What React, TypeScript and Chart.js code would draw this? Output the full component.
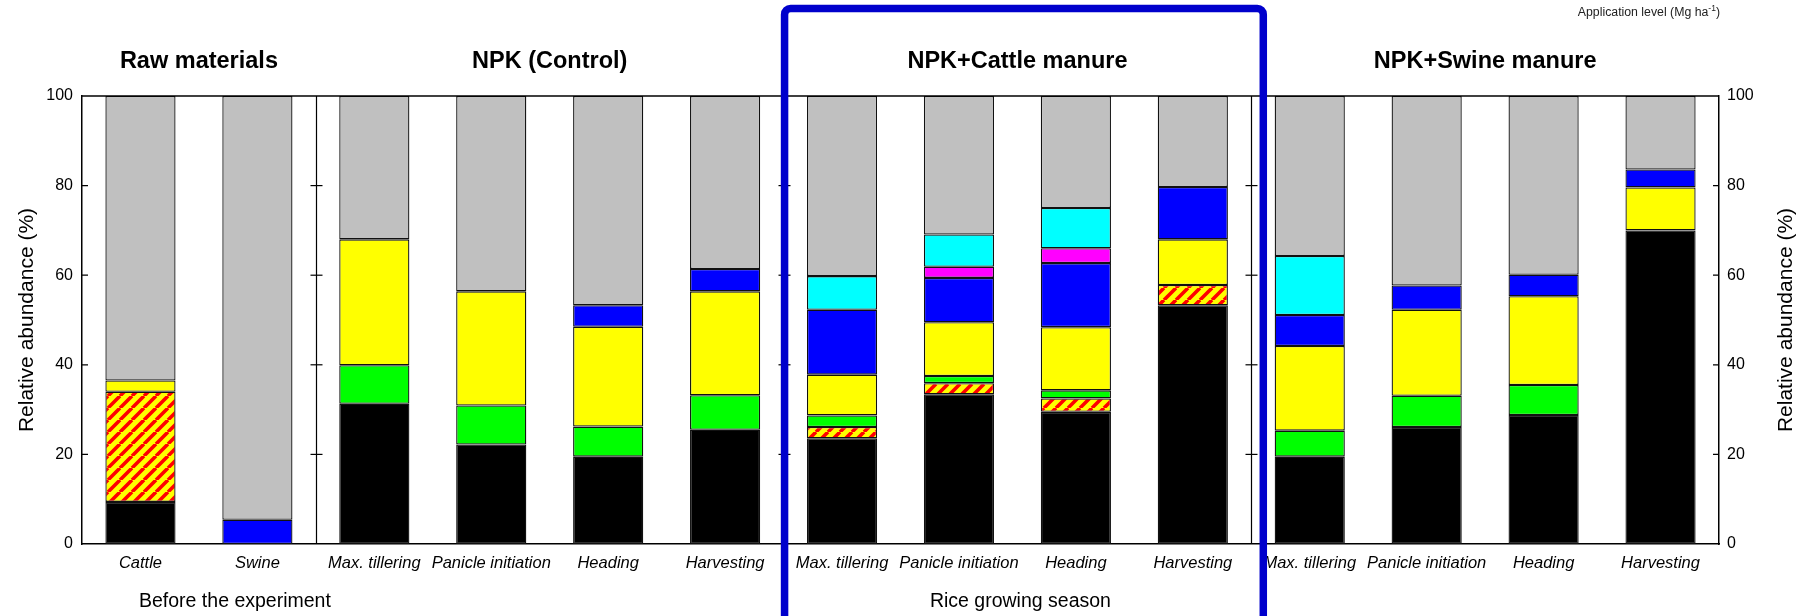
import React, { useEffect, useRef } from 'react';
import { Chart, registerables } from 'chart.js';

Chart.register(...registerables);

// ---------------- data ----------------
const categories = [
  'Cattle', 'Swine',
  'Max. tillering', 'Panicle initiation', 'Heading', 'Harvesting',
  'Max. tillering', 'Panicle initiation', 'Heading', 'Harvesting',
  'Max. tillering', 'Panicle initiation', 'Heading', 'Harvesting',
];
const panelTitles = ['Raw materials', 'NPK (Control)', 'NPK+Cattle manure', 'NPK+Swine manure'];
const panelSizes = [2, 4, 4, 4];
const groupLabels = ['Before the experiment', 'Rice growing season'];
const yTickValues = [20, 40, 60, 80];
const axisTitle = 'Relative abundance (%)';

const blackSeries = [9.4, null, 31.3, 22.2, 19.5, 25.5, 23.6, 33.4, 29.5, 53.3, 19.5, 26.1, 28.8, 70.0];
const hatchedSeries = [24.6, null, null, null, null, null, 2.5, 2.5, 3.0, 4.5, null, null, null, null];
const greenSeries = [null, null, 8.6, 8.7, 6.7, 7.7, 2.6, 1.6, 1.8, null, 5.8, 7.0, 6.7, null];
const yellowSeries = [2.5, null, 28.1, 25.5, 22.3, 23.2, 9.1, 12.0, 14.1, 10.2, 18.9, 19.2, 19.8, 9.6];
const blueSeries = [null, 5.4, null, null, 4.8, 5.0, 14.5, 9.9, 14.3, 11.7, 6.9, 5.4, 4.8, 4.0];
const magentaSeries = [null, null, null, null, null, null, null, 2.5, 3.3, null, null, null, null, null];
const cyanSeries = [null, null, null, null, null, null, 7.5, 7.2, 9.0, null, 13.2, null, null, null];
const graySeries = [63.5, 94.6, 32.0, 43.6, 46.7, 38.6, 40.2, 30.9, 25.0, 20.3, 35.7, 42.3, 39.9, 16.4];

const FONT = "'Liberation Sans', Arial, Helvetica, sans-serif";

function makeHatch(): CanvasPattern | string {
  const n = 12;
  const c = document.createElement('canvas');
  c.width = n;
  c.height = n;
  const g = c.getContext('2d');
  if (!g) return '#ffff00';
  g.fillStyle = '#ffff00';
  g.fillRect(0, 0, n, n);
  g.strokeStyle = '#ff0000';
  g.lineWidth = 3.6;
  g.beginPath();
  for (const o of [-n, 0, n]) {
    g.moveTo(o, n);
    g.lineTo(o + n, 0);
  }
  g.stroke();
  return g.createPattern(c, 'repeat') || '#ffff00';
}

const decorPlugin = {
  id: 'decor',
  afterDraw(chart: any) {
    const { ctx, chartArea: a, scales } = chart;
    const xs = scales.x;
    const ys = scales.y;
    const bounds: number[] = [a.left];
    let idx = 0;
    panelSizes.forEach((n) => {
      idx += n;
      if (idx < categories.length) {
        bounds.push((xs.getPixelForValue(idx - 1) + xs.getPixelForValue(idx)) / 2);
      } else {
        bounds.push(a.right);
      }
    });

    ctx.save();
    ctx.strokeStyle = '#000';
    ctx.lineWidth = 1.5;
    ctx.beginPath();
    ctx.moveTo(a.left, a.top);
    ctx.lineTo(a.right, a.top);
    ctx.stroke();

    ctx.lineWidth = 1.2;
    for (let i = 1; i < bounds.length - 1; i++) {
      const bx = Math.round(bounds[i]) + 0.5;
      ctx.beginPath();
      ctx.moveTo(bx, a.top);
      ctx.lineTo(bx, a.bottom);
      ctx.stroke();
      yTickValues.forEach((v) => {
        const py = ys.getPixelForValue(v);
        ctx.beginPath();
        ctx.moveTo(bx - 6, py);
        ctx.lineTo(bx + 6, py);
        ctx.stroke();
      });
    }
    yTickValues.forEach((v) => {
      const py = ys.getPixelForValue(v);
      ctx.beginPath();
      ctx.moveTo(a.left, py);
      ctx.lineTo(a.left + 6, py);
      ctx.moveTo(a.right - 6, py);
      ctx.lineTo(a.right, py);
      ctx.stroke();
    });

    ctx.fillStyle = '#000';
    ctx.textAlign = 'center';
    ctx.textBaseline = 'alphabetic';
    ctx.font = `bold 23.5px ${FONT}`;
    panelTitles.forEach((t, i) => {
      ctx.fillText(t, (bounds[i] + bounds[i + 1]) / 2, 68);
    });

    ctx.font = `19.5px ${FONT}`;
    ctx.fillText(groupLabels[0], (bounds[0] + bounds[1]) / 2 + 36, 607);
    ctx.fillText(groupLabels[1], (bounds[2] + bounds[3]) / 2 + 3, 607);

    ctx.font = `21px ${FONT}`;
    const cy = (a.top + a.bottom) / 2;
    [33, chart.width - 4].forEach((bx) => {
      ctx.save();
      ctx.translate(bx, cy);
      ctx.rotate(-Math.PI / 2);
      ctx.fillText(axisTitle, 0, 0);
      ctx.restore();
    });

    ctx.fillStyle = '#222';
    ctx.textAlign = 'left';
    const mainTxt = 'Application level (Mg ha';
    const sup = '-1';
    const end = ')';
    const fMain = `12.3px ${FONT}`;
    const fSup = `8.5px ${FONT}`;
    ctx.font = fMain;
    const w1 = ctx.measureText(mainTxt).width;
    const w3 = ctx.measureText(end).width;
    ctx.font = fSup;
    const w2 = ctx.measureText(sup).width;
    const right = a.right + 1;
    const start = right - (w1 + w2 + w3);
    ctx.font = fMain;
    ctx.fillText(mainTxt, start, 16);
    ctx.font = fSup;
    ctx.fillText(sup, start + w1, 11);
    ctx.font = fMain;
    ctx.fillText(end, start + w1 + w2, 16);

    const L = bounds[2] + 1;
    const R = bounds[3] + 12;
    const T = 8.5;
    const r = 6;
    ctx.strokeStyle = '#0000cc';
    ctx.lineWidth = 7.5;
    ctx.beginPath();
    ctx.moveTo(L, chart.height + 10);
    ctx.lineTo(L, T + r);
    ctx.arcTo(L, T, L + r, T, r);
    ctx.lineTo(R - r, T);
    ctx.arcTo(R, T, R, T + r, r);
    ctx.lineTo(R, chart.height + 10);
    ctx.stroke();
    ctx.restore();
  },
};

export default function App() {
  const ref = useRef<HTMLCanvasElement>(null);

  useEffect(() => {
    document.body.style.margin = '0';
    const canvas = ref.current;
    if (!canvas) return;
    Chart.defaults.font.family = FONT;
    const hatch = makeHatch();
    const mk = (label: string, data: (number | null)[], color: any) => ({
      label,
      data,
      backgroundColor: color,
      borderColor: '#111',
      borderWidth: 1.3,
      borderSkipped: false as const,
      barPercentage: 0.6,
      categoryPercentage: 1,
      stack: 's',
    });
    const border = { display: true, color: '#000', width: 1.5 };
    const tickFont = { size: 16 };
    const chart = new Chart(canvas, {
      type: 'bar',
      data: {
        labels: categories,
        datasets: [
          mk('Black', blackSeries, '#000000'),
          mk('Hatched', hatchedSeries, hatch),
          mk('Green', greenSeries, '#00ff00'),
          mk('Yellow', yellowSeries, '#ffff00'),
          mk('Blue', blueSeries, '#0000ff'),
          mk('Magenta', magentaSeries, '#ff00ff'),
          mk('Cyan', cyanSeries, '#00ffff'),
          mk('Gray', graySeries, '#c0c0c0'),
        ] as any,
      },
      options: {
        responsive: false,
        maintainAspectRatio: false,
        animation: false,
        devicePixelRatio: 1,
        layout: { padding: { top: 96, left: 0, right: 0, bottom: 0 } },
        plugins: { legend: { display: false }, tooltip: { enabled: false }, title: { display: false } },
        scales: {
          x: {
            stacked: true,
            grid: { display: false, drawTicks: false },
            border,
            ticks: {
              autoSkip: false,
              maxRotation: 0,
              minRotation: 0,
              padding: 10,
              color: '#000',
              font: { size: 16.5, style: 'italic' },
            },
            afterFit: (s: any) => { s.height = 72; },
          },
          y: {
            stacked: true,
            min: 0,
            max: 100,
            position: 'left',
            grid: { display: false, drawTicks: false },
            border,
            ticks: { stepSize: 20, padding: 9, color: '#000', font: tickFont },
            afterFit: (s: any) => { s.width = 82; },
          },
          yR: {
            min: 0,
            max: 100,
            position: 'right',
            grid: { display: false, drawTicks: false },
            border,
            ticks: { stepSize: 20, padding: 8, color: '#000', font: tickFont },
            afterFit: (s: any) => { s.width = 77; },
          },
        },
      } as any,
      plugins: [decorPlugin],
    });
    return () => chart.destroy();
  }, []);

  return (
    <div style={{ position: 'absolute', left: 0, top: 0, width: 1796, height: 616, background: '#fff' }}>
      <canvas ref={ref} width={1796} height={616} style={{ width: 1796, height: 616, display: 'block' }} />
    </div>
  );
}
